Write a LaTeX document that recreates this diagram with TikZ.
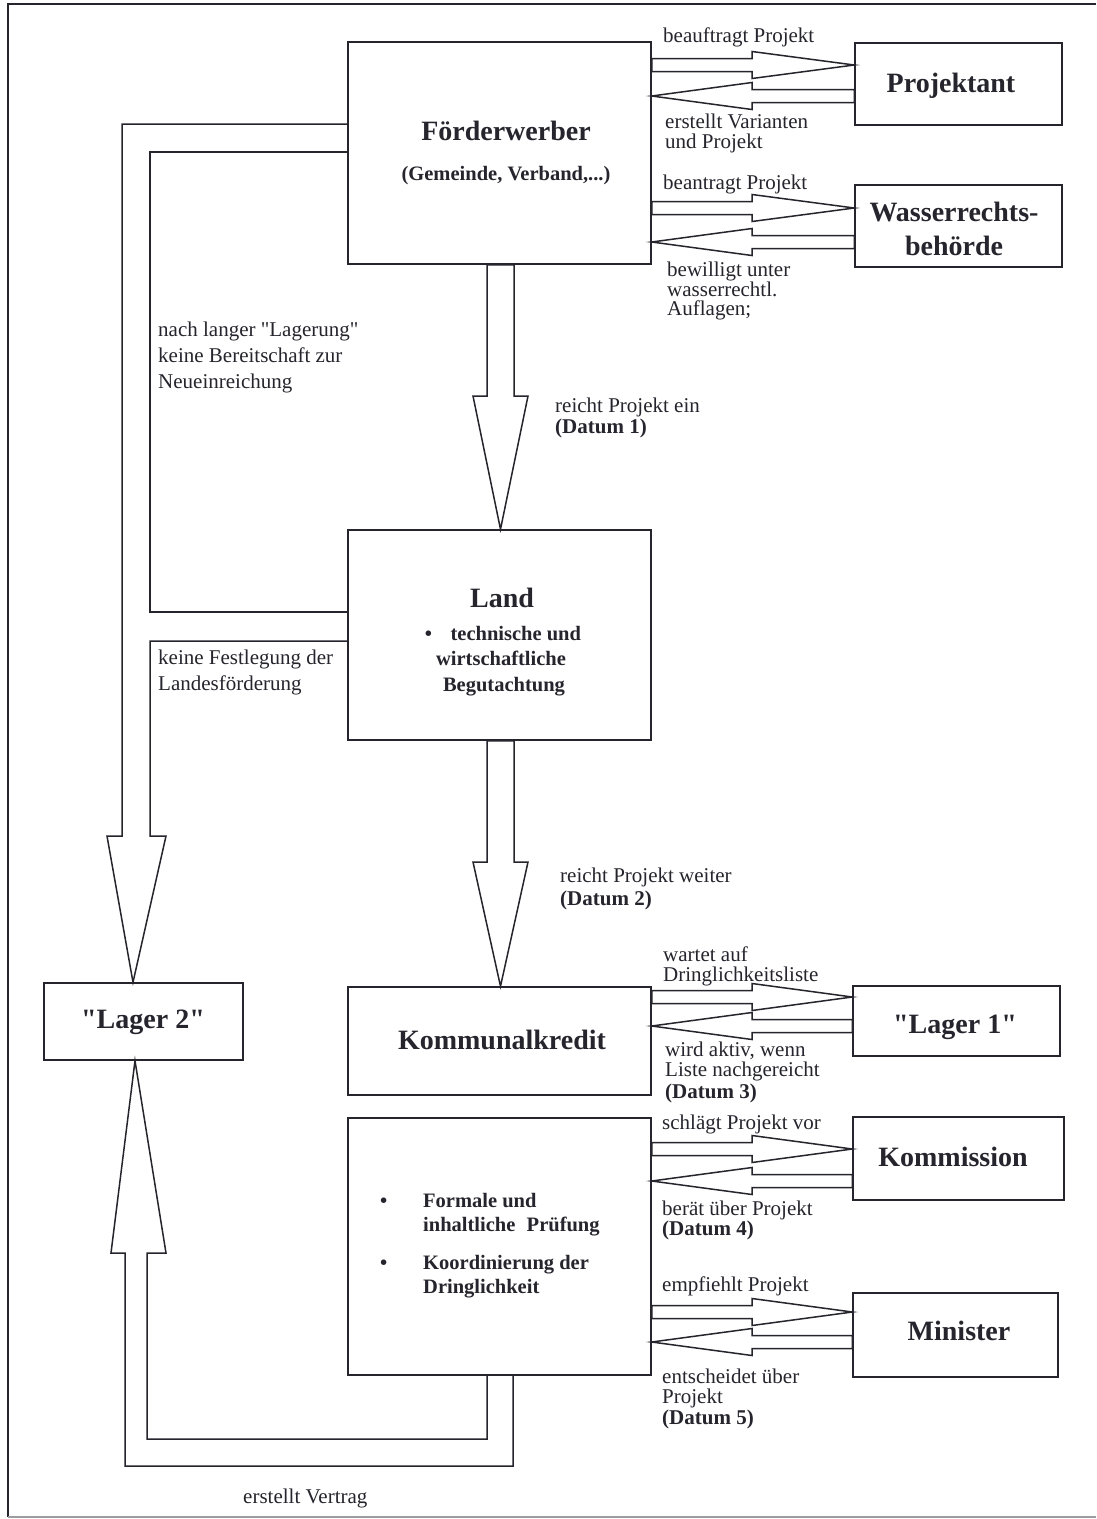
\documentclass[tikz,border=0pt]{standalone}
\usepackage{fontspec}
\setmainfont{Liberation Serif}[Ligatures=TeXOff]
\definecolor{ink}{RGB}{38,36,44}
\newcommand\dq{\symbol{34}}
\newcounter{lblc}
\newcommand\lbl[3]{\stepcounter{lblc}\node[lbl] (t\thelblc) at (#1,#2) {#3};}
% block arrow, horizontal: #1 start anchor, #2 tip anchor, #3 centre y, #4 head base x
\newcommand\harr[4]{\draw[barrow] (#1 |- 0,#3-6.5) -- (#4,#3-6.5) -- (#4,#3-13.5) -- (#2 |- 0,#3) -- (#4,#3+13.5) -- (#4,#3+6.5) -- (#1 |- 0,#3+6.5) -- cycle;}
% block arrow, vertical: #1 start anchor, #2 tip anchor, #3 centre x, #4 head base y
\newcommand\varr[4]{\draw[barrow] (#3-13.5,0 |- #1) -- (#3-13.5,#4) -- (#3-27.5,#4) -- (#3,0 |- #2) -- (#3+27.5,#4) -- (#3+13.5,#4) -- (#3+13.5,0 |- #1) -- cycle;}
\begin{document}
\begin{tikzpicture}[x=1pt,y=-1pt,line join=miter,
  box/.style={draw=ink,line width=1.5pt,rectangle,inner sep=0pt},
  barrow/.style={draw=ink,line width=1.5pt,fill=white},
  conn/.style={draw=ink,line width=1.5pt},
  lbl/.style={anchor=base west,inner sep=0pt,font=\fontsize{21}{20}\selectfont,text=ink},
  ttl/.style={anchor=base,inner sep=0pt,font=\fontsize{28}{30}\selectfont\bfseries,text=ink},
  sub/.style={anchor=base,inner sep=0pt,font=\fontsize{20.5}{20}\selectfont\bfseries,text=ink},
  subl/.style={anchor=base west,inner sep=0pt,font=\fontsize{20.5}{20}\selectfont\bfseries,text=ink}]
\useasboundingbox (0,0) rectangle (1096,1519);
\fill[white] (0,0) rectangle (1096,1519);
% frame
\draw[ink,line width=1.3pt] (1096,4) -- (8,4) -- (8,1517);
\draw[ink!45,line width=1.2pt] (8,1517) -- (1096,1517);

% boxes
\node[box,minimum width=303pt,minimum height=222pt] (fw) at (499.5,153) {};
\node[box,minimum width=207pt,minimum height=82pt] (proj) at (958.5,84) {};
\node[box,minimum width=207pt,minimum height=82pt] (wr) at (958.5,226) {};
\node[box,minimum width=303pt,minimum height=210pt] (land) at (499.5,635) {};
\node[box,minimum width=303pt,minimum height=108pt] (kk) at (499.5,1041) {};
\node[box,minimum width=303pt,minimum height=257pt] (kp) at (499.5,1246.5) {};
\node[box,minimum width=199pt,minimum height=77pt] (lag2) at (143.5,1021.5) {};
\node[box,minimum width=207pt,minimum height=70pt] (lag1) at (956.5,1021) {};
\node[box,minimum width=211pt,minimum height=83pt] (kom) at (958.5,1158.5) {};
\node[box,minimum width=205pt,minimum height=84pt] (min) at (955.5,1335) {};

% box texts
\node[ttl] (tfw) at (506,140) {Förderwerber};
\node[sub] (tfw2) at (506,180) {(Gemeinde, Verband,...)};
\node[ttl] (tproj) at (951,92) {Projektant};
\node[ttl] (twr1) at (954,221) {Wasserrechts-};
\node[ttl] (twr2) at (954,255) {behörde};
\node[ttl] (tland) at (502,607) {Land};
\node[sub] (tland1) at (503,640) {•\hspace{0.9em}technische und};
\node[sub] (tland2) at (501,665) {wirtschaftliche};
\node[sub] (tland3) at (504,691) {Begutachtung};
\node[ttl] (tkk) at (502,1049) {Kommunalkredit};
\node[subl] (tkp0a) at (380,1207) {•};
\node[subl] (tkp1) at (423,1207) {Formale und};
\node[subl] (tkp2) at (423,1231) {inhaltliche\hspace{0.3em} Prüfung};
\node[subl] (tkp0b) at (380,1269) {•};
\node[subl] (tkp3) at (423,1269) {Koordinierung der};
\node[subl] (tkp4) at (423,1293) {Dringlichkeit};
\node[ttl] (tlag2) at (143,1028) {\dq Lager 2\dq};
\node[ttl] (tlag1) at (955,1033) {\dq Lager 1\dq};
\node[ttl] (tkom) at (953,1166) {Kommission};
\node[ttl] (tmin) at (959,1340) {Minister};

% horizontal block arrows
\harr{fw.east}{proj.west}{65}{752}
\harr{proj.west}{fw.east}{96}{752}
\harr{fw.east}{wr.west}{208}{752}
\harr{wr.west}{fw.east}{242}{752}
\harr{kk.east}{lag1.west}{997}{752}
\harr{lag1.west}{kk.east}{1026}{752}
\harr{kp.east}{kom.west}{1149}{752}
\harr{kom.west}{kp.east}{1181}{752}
\harr{kp.east}{min.west}{1312}{752}
\harr{min.west}{kp.east}{1342}{752}

% vertical block arrows
\varr{fw.south}{land.north}{500.5}{396}
\varr{land.south}{kk.north}{500.5}{862}

% left loops to Lager 2
\draw[conn] (fw.west |- 0,124) -- (122,124) -- (122,836) -- (107,836) -- (133,0 |- lag2.north)
  -- (166,836) -- (150,836) -- (150,641) -- (land.west |- 0,641);
\draw[conn] (fw.west |- 0,152) -- (150,152) -- (150,612) -- (land.west |- 0,612);
% bottom loop to Lager 2
\draw[conn] (513,0 |- kp.south) -- (513,1466) -- (125,1466) -- (125,1253) -- (111,1253)
  -- (135,0 |- lag2.south) -- (166,1253) -- (147,1253) -- (147,1439) -- (487,1439) -- (487,0 |- kp.south);

% labels
\lbl{663}{42}{beauftragt Projekt}
\lbl{665}{128}{erstellt Varianten}
\lbl{665}{148}{und Projekt}
\lbl{663}{189}{beantragt Projekt}
\lbl{667}{276}{bewilligt unter}
\lbl{667}{296}{wasserrechtl.}
\lbl{667}{315}{Auflagen;}
\lbl{158}{336}{nach langer \dq Lagerung\dq}
\lbl{158}{362}{keine Bereitschaft zur}
\lbl{158}{388}{Neueinreichung}
\lbl{555}{412}{reicht Projekt ein}
\lbl{555}{433}{\textbf{(Datum 1)}}
\lbl{158}{664}{keine Festlegung der}
\lbl{158}{690}{Landesförderung}
\lbl{560}{882}{reicht Projekt weiter}
\lbl{560}{905}{\textbf{(Datum 2)}}
\lbl{663}{961}{wartet auf}
\lbl{663}{981}{Dringlichkeitsliste}
\lbl{665}{1056}{wird aktiv, wenn}
\lbl{665}{1076}{Liste nachgereicht}
\lbl{665}{1098}{\textbf{(Datum 3)}}
\lbl{662}{1129}{schlägt Projekt vor}
\lbl{662}{1215}{berät über Projekt}
\lbl{662}{1235}{\textbf{(Datum 4)}}
\lbl{662}{1291}{empfiehlt Projekt}
\lbl{662}{1383}{entscheidet über}
\lbl{662}{1403}{Projekt}
\lbl{662}{1424}{\textbf{(Datum 5)}}
\lbl{243}{1503}{erstellt Vertrag}
\end{tikzpicture}
\end{document}
